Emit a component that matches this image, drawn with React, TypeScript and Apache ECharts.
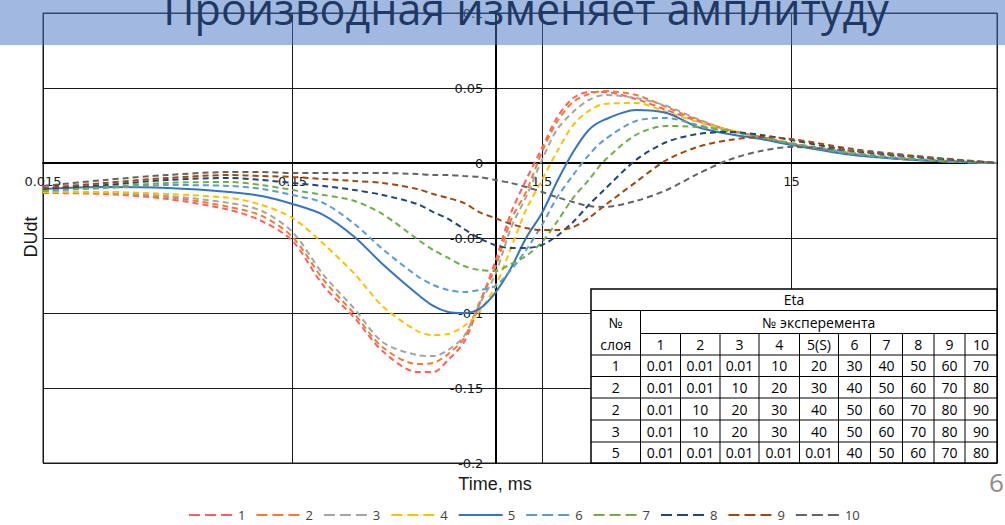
import React, { useEffect, useRef } from 'react';
import * as echarts from 'echarts';

// Sample times, ms (log scale)
const timeMs = [0.015, 0.0266, 0.0474, 0.084, 0.113, 0.15, 0.2, 0.266, 0.344, 0.474, 0.55, 0.631, 0.731, 0.84, 0.973, 1.127, 1.295, 1.5, 1.72, 2.0, 2.31, 2.66, 3.57, 4.74, 6.31, 8.4, 11.3, 15, 26.5, 47.4, 100];

// DU/dt for each experiment
const run1 = [-0.020, -0.0207, -0.024, -0.0313, -0.0387, -0.052, -0.082, -0.1033, -0.1253, -0.1393, -0.1393, -0.1313, -0.1193, -0.0947, -0.066, -0.0333, -0.0113, 0.010, 0.030, 0.0433, 0.0473, 0.0473, 0.0427, 0.0353, 0.028, 0.022, 0.0173, 0.0127, 0.006, 0.002, 0];
const run2 = [-0.0193, -0.020, -0.0227, -0.0293, -0.0353, -0.0493, -0.078, -0.1007, -0.1227, -0.134, -0.1333, -0.1273, -0.1167, -0.0933, -0.070, -0.038, -0.0193, 0.0073, 0.0273, 0.0407, 0.046, 0.048, 0.0453, 0.0373, 0.0287, 0.022, 0.0173, 0.0127, 0.006, 0.002, 0];
const run3 = [-0.0193, -0.020, -0.022, -0.0267, -0.032, -0.046, -0.0747, -0.0973, -0.1193, -0.128, -0.1287, -0.1247, -0.1153, -0.0947, -0.0747, -0.0433, -0.0227, 0.002, 0.022, 0.034, 0.042, 0.0453, 0.0433, 0.038, 0.0293, 0.022, 0.0173, 0.0127, 0.006, 0.002, 0];
const run4 = [-0.0193, -0.0193, -0.0207, -0.0233, -0.028, -0.0367, -0.054, -0.074, -0.0953, -0.112, -0.1147, -0.114, -0.1087, -0.0993, -0.0827, -0.0567, -0.0313, -0.0113, 0.0073, 0.0253, 0.0347, 0.0393, 0.040, 0.034, 0.0273, 0.022, 0.0173, 0.0127, 0.006, 0.002, 0];
const run5 = [-0.0173, -0.016, -0.0167, -0.0193, -0.022, -0.0273, -0.0347, -0.0493, -0.0673, -0.0873, -0.0953, -0.0993, -0.100, -0.0973, -0.0867, -0.070, -0.050, -0.0333, -0.0127, 0.0073, 0.022, 0.0287, 0.0353, 0.0333, 0.024, 0.0193, 0.016, 0.012, 0.0053, 0.002, 0];
const run6 = [-0.0187, -0.0167, -0.0147, -0.0153, -0.0173, -0.0213, -0.0267, -0.0407, -0.0573, -0.0753, -0.0813, -0.0847, -0.086, -0.0847, -0.082, -0.0713, -0.058, -0.0413, -0.0233, -0.008, 0.0053, 0.0153, 0.028, 0.030, 0.0253, 0.0213, 0.0173, 0.0127, 0.006, 0.002, 0];
const run7 = [-0.018, -0.016, -0.0133, -0.0127, -0.0147, -0.018, -0.0213, -0.0253, -0.034, -0.0507, -0.058, -0.0633, -0.0687, -0.0713, -0.072, -0.0673, -0.062, -0.0527, -0.0393, -0.0233, -0.0113, 0.0013, 0.0187, 0.0247, 0.024, 0.0213, 0.0173, 0.0133, 0.0067, 0.0027, 0];
const run8 = [-0.0173, -0.0147, -0.0113, -0.010, -0.0113, -0.0133, -0.0153, -0.018, -0.0213, -0.0273, -0.0327, -0.0373, -0.044, -0.050, -0.0547, -0.0567, -0.0567, -0.0547, -0.0487, -0.0393, -0.028, -0.018, 0.002, 0.014, 0.0193, 0.0207, 0.0187, 0.0153, 0.008, 0.004, 0];
const run9 = [-0.0167, -0.0133, -0.010, -0.008, -0.0087, -0.0093, -0.0107, -0.012, -0.0133, -0.0173, -0.0207, -0.0233, -0.0267, -0.0327, -0.0367, -0.0407, -0.0433, -0.0447, -0.0447, -0.0427, -0.0367, -0.0287, -0.0127, 0.002, 0.0107, 0.0153, 0.0173, 0.016, 0.0093, 0.0047, 0];
const run10 = [-0.0153, -0.0113, -0.008, -0.006, -0.006, -0.0067, -0.0067, -0.0067, -0.0067, -0.0073, -0.008, -0.008, -0.0087, -0.0093, -0.0113, -0.0133, -0.016, -0.0193, -0.0227, -0.026, -0.0287, -0.0293, -0.0253, -0.018, -0.0073, 0.002, 0.008, 0.0107, 0.008, 0.004, 0];

const runs = [run1, run2, run3, run4, run5, run6, run7, run8, run9, run10];
const runNames = ['1', '2', '3', '4', '5', '6', '7', '8', '9', '10'];
const runColors = ['#FF5F5F', '#ED7D31', '#A5A5A5', '#FFC000', '#3674BE', '#5B9BD5', '#70AD47', '#264478', '#9E480E', '#636363'];
const solidRun = '5'; // the reference run is drawn solid, the rest dashed

// Axis ranges and tick labels
const timeTickLabels = ['0.015', '0.15', '1.5', '15'];
const timeMin = 0.015;
const timeMax = 100;
const timeAxisCross = 1; // the DUdt axis crosses the time axis at 1 ms
const duMin = -0.2;
const duMax = 0.1;
const duStep = 0.05;

// Eta table
const etaTitle = 'Eta';
const etaExperimentHeader = '№ эксперемента';
const etaLayerHeader = ['№', 'слоя'];
const etaExperiments = ['1', '2', '3', '4', '5(S)', '6', '7', '8', '9', '10'];
const etaLayers = ['1', '2', '2', '3', '5'];
const etaValues = [
  ['0.01', '0.01', '0.01', '10', '20', '30', '40', '50', '60', '70'],
  ['0.01', '0.01', '10', '20', '30', '40', '50', '60', '70', '80'],
  ['0.01', '10', '20', '30', '40', '50', '60', '70', '80', '90'],
  ['0.01', '10', '20', '30', '40', '50', '60', '70', '80', '90'],
  ['0.01', '0.01', '0.01', '0.01', '0.01', '40', '50', '60', '70', '80'],
];

const slideTitle = 'Производная изменяет амплитуду';
const pageNumber = '6';

function buildTable(): any[] {
  const cols = [591, 640.5, 680.5, 720, 759, 799.5, 838.5, 870.5, 902.5, 934, 965, 997];
  const rows = [289, 310.5, 333.5, 355, 376.5, 398, 420, 442, 463];
  const Z = 50;
  const els: any[] = [];
  const left = cols[0];
  const right = cols[cols.length - 1];
  const top = rows[0];
  const bottom = rows[rows.length - 1];
  els.push({
    type: 'rect', z: Z, silent: true,
    shape: { x: left, y: top, width: right - left, height: bottom - top },
    style: { fill: '#ffffff', stroke: '#000000', lineWidth: 1.5 },
  });
  for (let r = 1; r < rows.length - 1; r++) {
    const x1 = r === 2 ? cols[1] : left;
    els.push({ type: 'line', z: Z + 1, silent: true, shape: { x1, y1: rows[r], x2: right, y2: rows[r] }, style: { stroke: '#000', lineWidth: 1 } });
  }
  els.push({ type: 'line', z: Z + 1, silent: true, shape: { x1: cols[1], y1: rows[1], x2: cols[1], y2: bottom }, style: { stroke: '#000', lineWidth: 1 } });
  for (let c = 2; c < cols.length - 1; c++) {
    els.push({ type: 'line', z: Z + 1, silent: true, shape: { x1: cols[c], y1: rows[2], x2: cols[c], y2: bottom }, style: { stroke: '#000', lineWidth: 1 } });
  }
  const txt = (text: string, cx: number, cy: number) => ({
    type: 'text', z: Z + 2, silent: true, x: cx, y: cy,
    style: { text, fill: '#000', fontSize: 14, fontFamily: '"Open Sans", sans-serif', align: 'center', verticalAlign: 'middle' },
  });
  const mid = (a: number, b: number) => (a + b) / 2;
  els.push(txt(etaTitle, mid(left, right), mid(rows[0], rows[1])));
  els.push(txt(etaExperimentHeader, mid(cols[1], right), mid(rows[1], rows[2])));
  els.push(txt(etaLayerHeader[0], mid(cols[0], cols[1]), mid(rows[1], rows[2])));
  els.push(txt(etaLayerHeader[1], mid(cols[0], cols[1]), mid(rows[2], rows[3])));
  etaExperiments.forEach((e, c) => els.push(txt(e, mid(cols[c + 1], cols[c + 2]), mid(rows[2], rows[3]))));
  etaLayers.forEach((layer, r) => {
    els.push(txt(layer, mid(cols[0], cols[1]), mid(rows[r + 3], rows[r + 4])));
    etaValues[r].forEach((v, c) => els.push(txt(v, mid(cols[c + 1], cols[c + 2]), mid(rows[r + 3], rows[r + 4]))));
  });
  return els;
}

export default function App() {
  const ref = useRef<HTMLDivElement>(null);

  useEffect(() => {
    if (!ref.current) return;
    const chart = echarts.init(ref.current, undefined, { renderer: 'svg' });
    const labelFont = { fontFamily: '"DejaVu Sans", sans-serif', fontSize: 13, color: '#1a1a1a' };

    const option: any = {
      animation: false,
      backgroundColor: '#ffffff',
      grid: { left: 43, right: 8, top: 13, bottom: 62, show: true, borderColor: '#1a1a1a', borderWidth: 1, backgroundColor: 'transparent' },
      xAxis: [
        // log time axis carrying the data
        { type: 'log', logBase: 10, min: timeMin, max: timeMax, show: false, axisLine: { onZero: false } },
        // decade gridlines and labels starting at the first sample time
        {
          type: 'value', min: 0, max: Math.log10(timeMax / timeMin), interval: 1, position: 'bottom',
          axisLine: { show: true, onZero: false, lineStyle: { color: '#000', width: 2 } },
          axisTick: { show: false },
          splitLine: { show: true, lineStyle: { color: '#1a1a1a', width: 1 } },
          axisLabel: {
            ...labelFont, margin: 12, showMaxLabel: false, showMinLabel: true,
            formatter: (v: number) => {
              const i = Math.round(v);
              return Math.abs(v - i) < 1e-6 && timeTickLabels[i] ? timeTickLabels[i] : '';
            },
          },
        },
      ],
      yAxis: {
        type: 'value', min: duMin, max: duMax, interval: duStep, position: 'left',
        axisLine: { show: true, onZero: false, lineStyle: { color: '#000', width: 2 } },
        axisTick: { show: false },
        splitLine: { show: true, lineStyle: { color: '#1a1a1a', width: 1 } },
        axisLabel: { ...labelFont, margin: 12, formatter: (v: number) => String(Math.round(v * 100) / 100) },
      },
      legend: {
        data: runNames.map((name) => ({
          name,
          lineStyle: { type: name === solidRun ? 'solid' : [11, 5] },
        })),
        left: 183, top: 503, padding: 5, itemWidth: 44, itemHeight: 12, itemGap: 10,
        itemStyle: { opacity: 0 },
        textStyle: { fontFamily: '"Open Sans", sans-serif', fontSize: 13, color: '#404040', lineHeight: 14 },
      },
      series: runs.map((vals, i) => ({
        name: runNames[i],
        type: 'line',
        xAxisIndex: 0,
        yAxisIndex: 0,
        data: timeMs.map((t, k) => [t, vals[k]]),
        symbol: 'none',
        smooth: 0.3,
        lineStyle: { color: runColors[i], width: 2, type: runNames[i] === solidRun ? 'solid' : [6, 4] },
        itemStyle: { color: runColors[i] },
      })),
      graphic: [
        ...buildTable(),
        {
          type: 'text', z: 60, silent: true, x: 31, y: 237, rotation: Math.PI / 2,
          style: { text: 'DUdt', fill: '#1a1a1a', fontSize: 18, fontFamily: '"Liberation Sans", Arial, sans-serif', align: 'center', verticalAlign: 'middle' },
        },
        {
          type: 'text', z: 60, silent: true, x: 495, y: 484,
          style: { text: 'Time, ms', fill: '#1a1a1a', fontSize: 18, fontFamily: '"Liberation Sans", Arial, sans-serif', align: 'center', verticalAlign: 'middle' },
        },
        {
          type: 'text', z: 60, silent: true, x: 989, y: 482,
          style: { text: pageNumber, fill: '#8C8C8C', fontSize: 26, fontFamily: '"Open Sans", sans-serif', align: 'left', verticalAlign: 'middle' },
        },
        {
          type: 'rect', z: 200, silent: true,
          shape: { x: 0, y: 0, width: 1005, height: 45 },
          style: { fill: 'rgba(68,114,196,0.5)' },
        },
        {
          type: 'text', z: 201, silent: true, x: 526, y: 8,
          style: { text: slideTitle, fill: '#1F3864', fontSize: 43, fontFamily: '"Open Sans", sans-serif', align: 'center', verticalAlign: 'middle' },
        },
      ],
    };

    chart.setOption(option);

    // Move the two visible axes so they cross at t = 1 ms and DUdt = 0,
    // using the pixel positions the chart's own scales give for those values.
    const xLeft = chart.convertToPixel({ xAxisIndex: 0 }, timeMin) as number;
    const xCross = chart.convertToPixel({ xAxisIndex: 0 }, timeAxisCross) as number;
    const yBottom = chart.convertToPixel({ yAxisIndex: 0 }, duMin) as number;
    const yZero = chart.convertToPixel({ yAxisIndex: 0 }, 0) as number;
    chart.setOption({
      xAxis: [{}, { offset: -(yBottom - yZero) }],
      yAxis: { offset: -(xCross - xLeft) },
    });

    return () => chart.dispose();
  }, []);

  return (
    <div
      ref={ref}
      style={{ position: 'absolute', left: 0, top: 0, width: 1005, height: 525, background: '#fff' }}
    />
  );
}
